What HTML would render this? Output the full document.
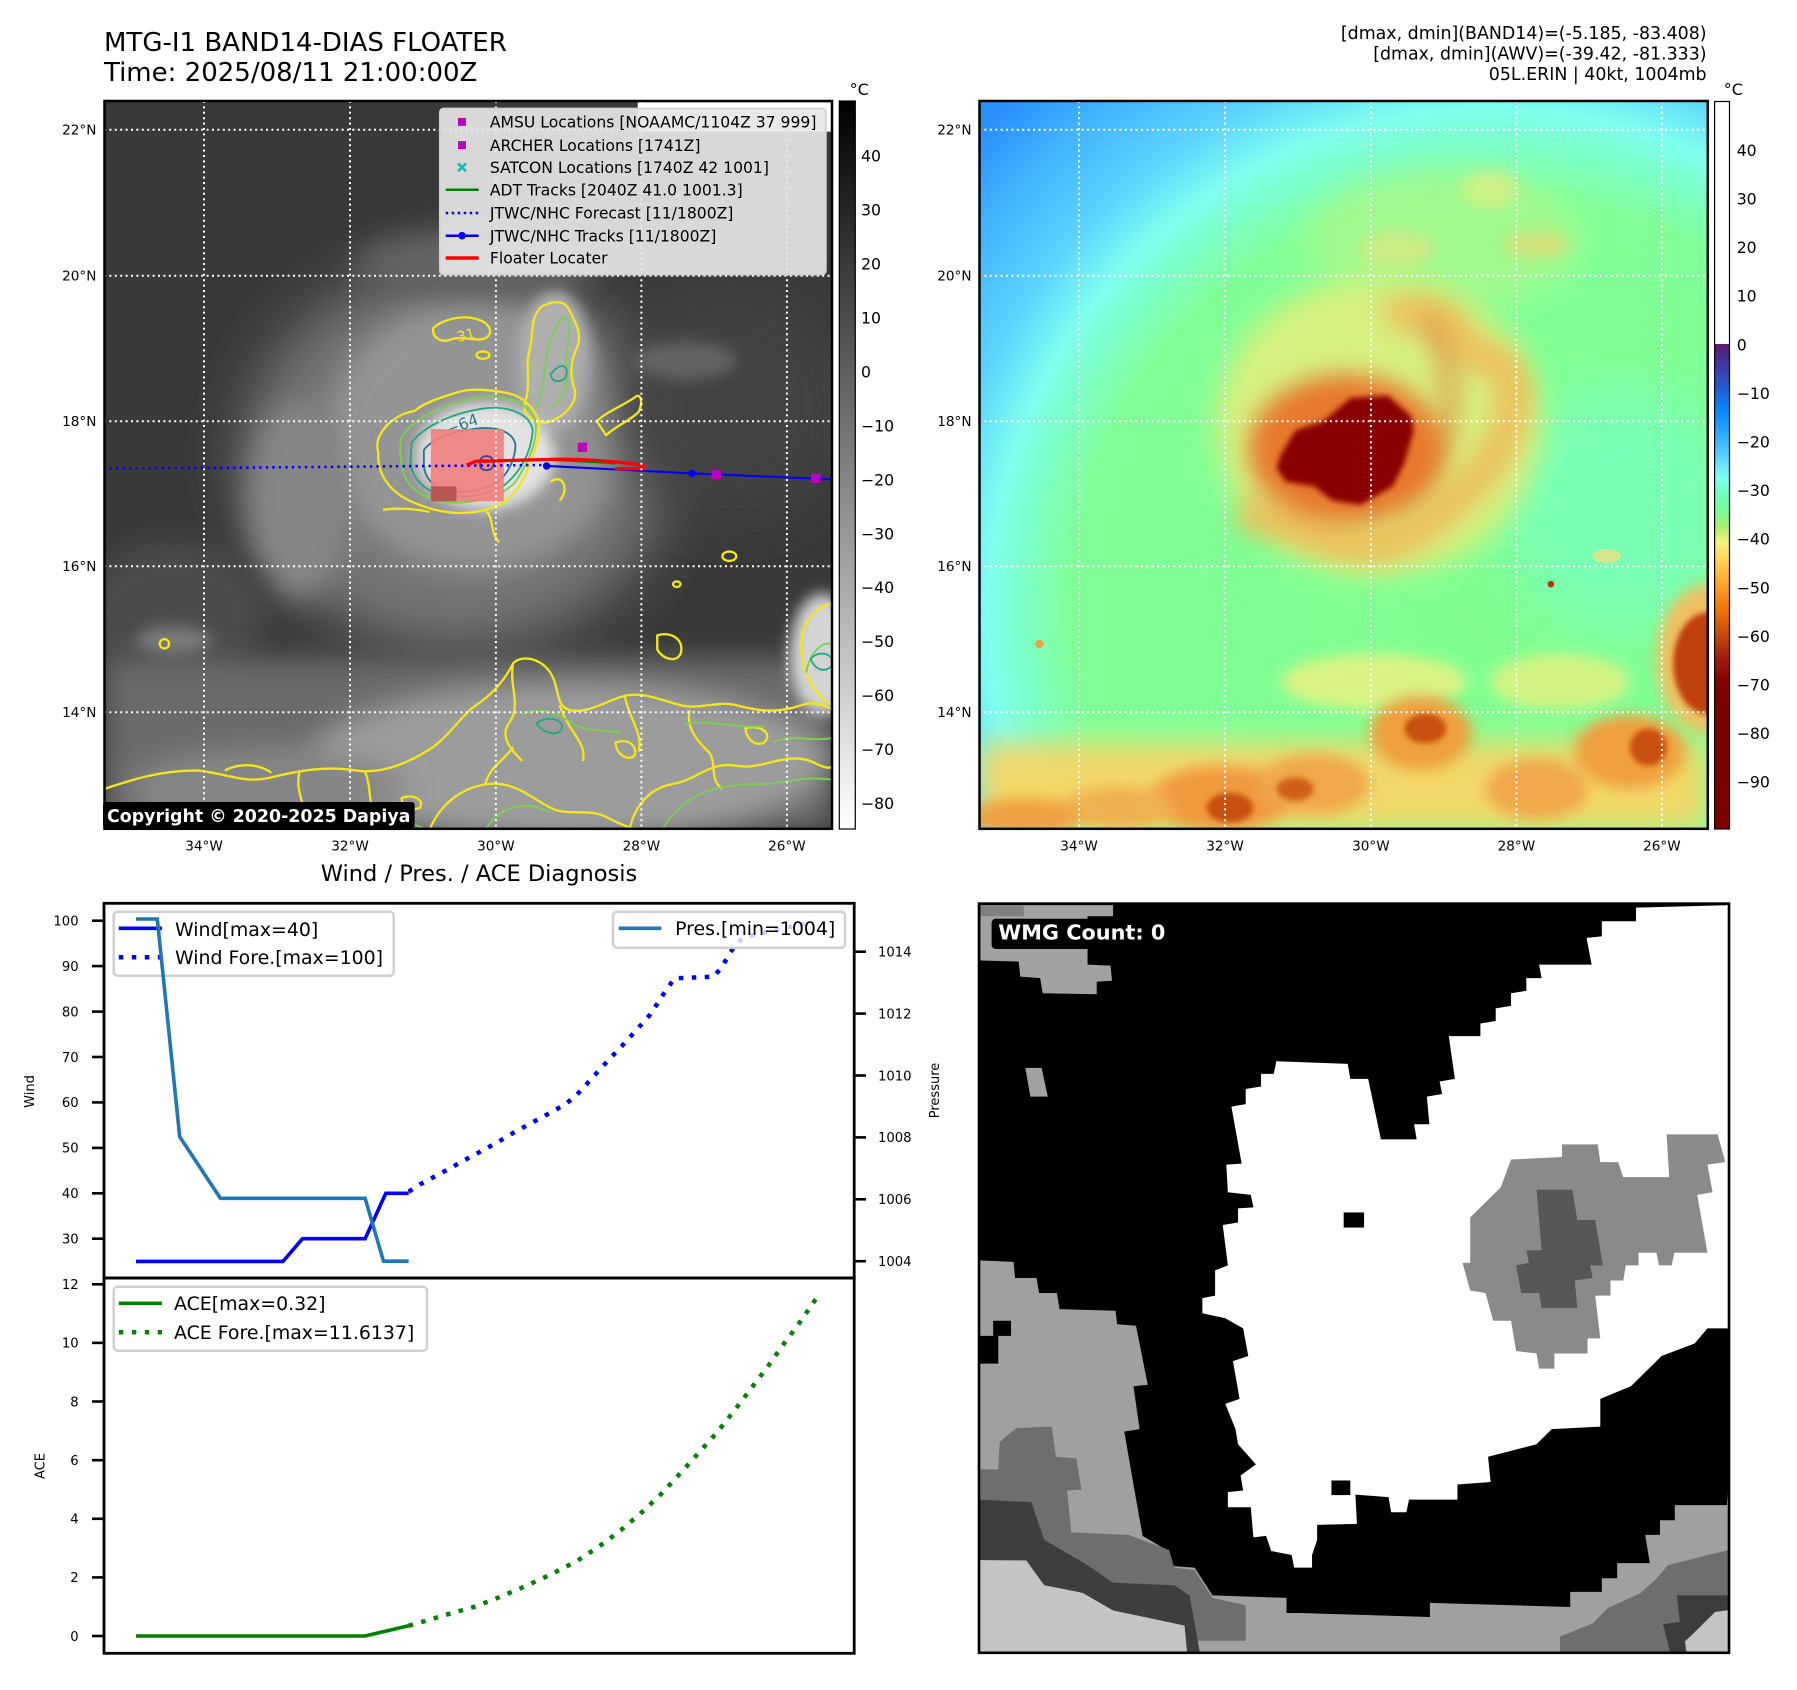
<!DOCTYPE html>
<html><head><meta charset="utf-8"><style>
html,body{margin:0;padding:0;background:#fff}
svg{display:block}
text{font-family:"DejaVu Sans","Liberation Sans",sans-serif}
</style></head><body>
<svg width="1797" height="1690" viewBox="0 0 1797 1690" xmlns="http://www.w3.org/2000/svg">
<defs>
<filter id="b6" x="-50%" y="-50%" width="200%" height="200%"><feGaussianBlur stdDeviation="6"/></filter>
<filter id="b15" x="-50%" y="-50%" width="200%" height="200%"><feGaussianBlur stdDeviation="15"/></filter>
<filter id="b25" x="-50%" y="-50%" width="200%" height="200%"><feGaussianBlur stdDeviation="25"/></filter>
<filter id="b30" x="-50%" y="-50%" width="200%" height="200%"><feGaussianBlur stdDeviation="30"/></filter>
<filter id="b60" x="-50%" y="-50%" width="200%" height="200%"><feGaussianBlur stdDeviation="60"/></filter>
<linearGradient id="cb1" x1="0" y1="0" x2="0" y2="1"><stop offset="0" stop-color="#000"/><stop offset="1" stop-color="#fff"/></linearGradient>
<linearGradient id="cb2" x1="0" y1="0" x2="0" y2="1">
<stop offset="0" stop-color="#fff"/><stop offset="0.3333" stop-color="#fff"/>
<stop offset="0.3334" stop-color="#5a1a6e"/><stop offset="0.3667" stop-color="#3c3ca8"/>
<stop offset="0.40" stop-color="#1e64dc"/><stop offset="0.4267" stop-color="#0a88ff"/>
<stop offset="0.4667" stop-color="#3cb4ff"/><stop offset="0.50" stop-color="#6ee4ff"/>
<stop offset="0.52" stop-color="#80fff0"/><stop offset="0.54" stop-color="#70ffb8"/>
<stop offset="0.5667" stop-color="#80f890"/><stop offset="0.5867" stop-color="#b0f070"/>
<stop offset="0.6067" stop-color="#f8f080"/><stop offset="0.6333" stop-color="#ffd050"/>
<stop offset="0.6667" stop-color="#ffa028"/><stop offset="0.70" stop-color="#f07008"/>
<stop offset="0.7333" stop-color="#c84810"/><stop offset="0.7667" stop-color="#a01c10"/>
<stop offset="0.80" stop-color="#7e0000"/><stop offset="1" stop-color="#7a0000"/>
</linearGradient>
<radialGradient id="m2bg" gradientUnits="userSpaceOnUse" cx="1100" cy="1100" r="1500">
<stop offset="0" stop-color="#80ff90"/><stop offset="0.60" stop-color="#80ff98"/>
<stop offset="0.67" stop-color="#7cffc8"/><stop offset="0.72" stop-color="#80ffee"/>
<stop offset="0.80" stop-color="#5cd4ff"/><stop offset="0.92" stop-color="#40b0ff"/>
<stop offset="1" stop-color="#2a90ff"/>
</radialGradient>
<clipPath id="c1"><rect x="0" y="0" width="1568" height="1568"/></clipPath>
</defs>

<rect width="1797" height="1690" fill="#fff"/>

<!-- Titles -->
<text x="104" y="51" font-size="26">MTG-I1 BAND14-DIAS FLOATER</text>
<text x="104" y="81" font-size="26">Time: 2025/08/11 21:00:00Z</text>
<text x="1706.6" y="38.8" font-size="17.4" text-anchor="end">[dmax, dmin](BAND14)=(-5.185, -83.408)</text>
<text x="1706.6" y="59.3" font-size="17.4" text-anchor="end">[dmax, dmin](AWV)=(-39.42, -81.333)</text>
<text x="1706.6" y="79.8" font-size="17.4" text-anchor="end">05L.ERIN | 40kt, 1004mb</text>

<!-- ============ MAP 1 ============ -->
<svg x="104" y="100" width="729" height="730" viewBox="0 0 1568 1568" preserveAspectRatio="none">
<g clip-path="url(#c1)">
<rect width="1568" height="1568" fill="#393939"/>
<ellipse cx="760" cy="770" rx="460" ry="410" fill="#747474" filter="url(#b60)"/>
<ellipse cx="800" cy="720" rx="320" ry="290" fill="#949494" filter="url(#b30)"/>
<ellipse cx="420" cy="860" rx="110" ry="210" fill="#868686" filter="url(#b30)"/>
<ellipse cx="800" cy="350" rx="260" ry="70" fill="#646464" filter="url(#b30)"/>
<ellipse cx="970" cy="560" rx="80" ry="150" fill="#b0b0b0" filter="url(#b15)"/>
<ellipse cx="820" cy="765" rx="150" ry="115" fill="#e2e2e2" filter="url(#b15)"/>
<ellipse cx="1350" cy="650" rx="250" ry="250" fill="#434343" filter="url(#b60)"/>
<ellipse cx="1250" cy="560" rx="110" ry="40" fill="#646464" filter="url(#b15)"/>
<ellipse cx="150" cy="1100" rx="200" ry="150" fill="#4c4c4c" filter="url(#b30)"/>
<rect x="0" y="1200" width="1568" height="368" fill="#6a6a6a" filter="url(#b30)"/>
<ellipse cx="1000" cy="1420" rx="560" ry="170" fill="#9c9c9c" filter="url(#b30)"/>
<ellipse cx="350" cy="1480" rx="300" ry="90" fill="#868686" filter="url(#b30)"/>
<ellipse cx="1545" cy="1190" rx="70" ry="130" fill="#d4d4d4" filter="url(#b15)"/>
<ellipse cx="150" cy="1160" rx="80" ry="30" fill="#7a7a7a" filter="url(#b15)"/>
<!-- contours -->
<g fill="none" stroke-linejoin="round" stroke-width="5">
<g stroke="#f5e61a">
<path d="M598,712 C612,690 640,672 668,668 C690,650 720,640 760,628 C790,618 830,622 870,630 C900,636 925,660 935,690 C940,720 925,760 912,790 C905,812 890,838 870,856 C850,872 820,884 785,886 C750,890 710,882 680,870 C650,860 628,846 612,826 C596,806 588,782 590,758 C585,740 590,724 598,712 Z"/>
<path d="M905,650 C920,610 905,570 915,540 C925,500 915,470 940,445 C960,432 990,428 1000,450 C1010,470 1030,500 1018,530 C1005,556 1000,590 1012,620 C1020,650 990,680 960,690 C940,698 918,690 905,670 Z"/>
<path d="M708,490 C730,470 770,462 800,470 C830,478 840,500 820,512 C800,520 770,505 745,515 C725,522 705,510 708,490 Z"/>
<path d="M1060,690 C1080,670 1110,660 1140,640 C1155,625 1160,650 1150,670 C1130,690 1100,700 1080,720 Z"/>
<path d="M820,880 C840,900 830,930 850,950 M960,820 C990,800 1000,840 980,860 M600,880 C640,875 680,880 700,885"/>
<ellipse cx="815" cy="548" rx="14" ry="8"/><ellipse cx="130" cy="1168" rx="10" ry="10"/>
<ellipse cx="1232" cy="1040" rx="8" ry="6"/><ellipse cx="1345" cy="980" rx="15" ry="10"/>
<path d="M0,1480 C60,1460 120,1440 200,1440 C260,1445 300,1470 360,1455 C420,1440 480,1430 540,1440 C600,1450 660,1420 700,1395 C740,1370 770,1320 800,1300 C830,1280 860,1250 880,1210 C900,1190 940,1200 960,1230 C980,1260 970,1300 1000,1310 C1040,1320 1080,1290 1120,1280 C1160,1270 1200,1290 1240,1300 C1280,1310 1320,1290 1360,1300 C1400,1310 1440,1320 1500,1300 C1530,1290 1550,1300 1568,1310"/>
<path d="M700,1568 C720,1520 760,1480 820,1470 C880,1460 920,1500 960,1520 C1000,1540 1040,1520 1080,1540 C1120,1560 1140,1568 1160,1568"/>
<path d="M1130,1568 C1140,1520 1170,1480 1220,1470 C1280,1460 1300,1420 1360,1430 C1420,1440 1460,1400 1520,1420 C1540,1430 1560,1440 1568,1430"/>
<path d="M1568,1080 C1530,1090 1500,1120 1500,1170 C1500,1220 1520,1260 1550,1290 L1568,1300"/>
<path d="M1190,1150 C1220,1140 1250,1160 1240,1190 C1230,1210 1200,1200 1190,1180 Z M260,1440 C300,1420 340,1430 360,1445"/>
<path d="M880,1210 C870,1260 900,1300 870,1340 C850,1370 880,1400 900,1420 M980,1300 C1000,1360 1040,1380 1030,1420 M1120,1280 C1130,1330 1160,1360 1150,1400 M1260,1310 C1250,1350 1280,1380 1300,1400 C1320,1420 1300,1460 1330,1480 M560,1440 C580,1480 560,1520 600,1550 M420,1445 C410,1490 440,1520 430,1568 M820,1470 C830,1430 860,1420 880,1390"/>
<path d="M1100,1380 C1130,1370 1150,1390 1140,1410 C1120,1420 1100,1400 1100,1380 Z M1380,1350 C1410,1340 1440,1360 1420,1380 C1400,1390 1380,1370 1380,1350 Z M640,1500 C660,1490 690,1500 680,1520 C660,1530 640,1515 640,1500 Z"/>
</g>
<g stroke="#7ad151" stroke-width="4">
<path d="M640,725 C660,690 720,655 800,640 C860,632 915,648 928,690 C935,740 905,790 885,820 C860,850 800,868 740,864 C690,860 650,832 642,792 C636,765 635,745 640,725 Z"/>
<path d="M930,660 C950,620 945,560 960,520 C975,480 985,455 1000,475 C1005,500 990,540 995,580 C1000,620 980,650 960,660"/>
<path d="M820,1568 C850,1520 900,1500 960,1530 M1200,1568 C1240,1500 1300,1470 1400,1470 C1460,1470 1500,1450 1568,1460 M1510,1230 C1520,1180 1550,1160 1568,1170 M450,1568 C480,1520 540,1500 600,1520 C640,1530 660,1560 700,1568 M1250,1340 C1300,1330 1350,1350 1420,1345"/>
<path d="M900,1320 C940,1300 980,1320 1010,1340 C1040,1360 1080,1350 1110,1360 M1440,1380 C1480,1360 1520,1380 1568,1370"/>
</g>
<g stroke="#22a884" stroke-width="4">
<path d="M662,735 C690,700 750,672 820,662 C880,656 920,680 922,712 C918,760 895,800 860,828 C820,852 760,858 718,846 C678,832 655,800 660,765 Z"/>
<path d="M960,590 C975,570 990,565 995,580 C998,600 980,610 965,600 Z M930,1340 C950,1320 990,1330 985,1350 C980,1365 950,1365 930,1340 Z M1520,1200 C1540,1180 1568,1190 1568,1210 C1560,1230 1530,1230 1520,1200 Z"/>
</g>
<path stroke="#2a788e" stroke-width="4" d="M688,752 C705,728 750,712 800,706 C850,700 880,715 885,740 C885,770 870,800 850,818 C820,840 770,846 735,838 C705,830 690,810 688,785 Z"/>
</g>
<text x="735" y="712" font-size="34" fill="#2a788e" transform="rotate(-20 760 700)">−64</text>
<text x="735" y="520" font-size="30" fill="#f5e61a" transform="rotate(-15 760 510)">−31</text>
<!-- floater rect -->
<rect x="703" y="707" width="157" height="155" fill="#f08080" opacity="0.92"/>
<rect x="703" y="830" width="55" height="32" fill="#b85555"/>
<path d="M808,775 C815,760 835,762 838,778 C840,795 820,800 810,790 Z" fill="none" stroke="#414487" stroke-width="4"/>
<!-- tracks -->
<line x1="12" y1="792" x2="950" y2="784" stroke="#0000ff" stroke-width="5.5" stroke-dasharray="5 9"/>
<path d="M820,778 C900,768 1000,774 1100,781" stroke="#008000" stroke-width="4" fill="none"/>
<path d="M952,786 L1265,802 L1568,815" stroke="#0000ff" stroke-width="4.5" fill="none"/>
<circle cx="952" cy="786" r="8" fill="#0000ff"/><circle cx="1265" cy="802" r="8" fill="#0000ff"/>
<path d="M780,784 L800,776 L960,772 C1020,770 1100,775 1160,785 L1160,792 L1100,792" stroke="#ff0000" stroke-width="7" fill="none"/>
<rect x="1019" y="736" width="20" height="20" fill="#bf00bf"/>
<rect x="1307" y="795" width="20" height="20" fill="#bf00bf"/>
<rect x="1521" y="803" width="20" height="20" fill="#bf00bf"/>
</g>
</svg>
<!-- map1 gridlines -->
<g stroke="#fff" stroke-width="2" stroke-dasharray="2 3.4">
<line x1="204" y1="101" x2="204" y2="829"/><line x1="350" y1="101" x2="350" y2="829"/>
<line x1="495.9" y1="101" x2="495.9" y2="829"/><line x1="641.4" y1="101" x2="641.4" y2="829"/>
<line x1="786.9" y1="101" x2="786.9" y2="829"/>
<line x1="104" y1="129.8" x2="832" y2="129.8"/><line x1="104" y1="275.7" x2="832" y2="275.7"/>
<line x1="104" y1="421.2" x2="832" y2="421.2"/><line x1="104" y1="566.3" x2="832" y2="566.3"/>
<line x1="104" y1="712.3" x2="832" y2="712.3"/>
</g>
<!-- eumetsat label + legend -->
<rect x="637.7" y="102.3" width="194" height="29.3" fill="#fff"/>
<text x="650" y="124" font-size="17" fill="#e6e6e6">© EUMETSAT 2025</text>
<rect x="439.7" y="108.4" width="386.3" height="166.4" rx="4" fill="#e6e6e6" fill-opacity="0.92" stroke="#d0d0d0" stroke-width="1.5"/>
<g font-size="15.6" fill="#000">
<text x="489.9" y="127.6">AMSU Locations [NOAAMC/1104Z 37 999]</text>
<text x="489.9" y="150.8">ARCHER Locations [1741Z]</text>
<text x="489.9" y="173.1">SATCON Locations [1740Z 42 1001]</text>
<text x="489.9" y="195.4">ADT Tracks [2040Z 41.0 1001.3]</text>
<text x="489.9" y="218.7">JTWC/NHC Forecast [11/1800Z]</text>
<text x="489.9" y="241.4">JTWC/NHC Tracks [11/1800Z]</text>
<text x="489.9" y="263.7">Floater Locater</text>
</g>
<rect x="458" y="117.9" width="8" height="8" fill="#bf00bf"/>
<rect x="458" y="141.1" width="8" height="8" fill="#bf00bf"/>
<path d="M458,163.4 L466,171.4 M466,163.4 L458,171.4" stroke="#00bfbf" stroke-width="2.5"/>
<line x1="445.7" y1="189.7" x2="478.7" y2="189.7" stroke="#008000" stroke-width="2.5"/>
<line x1="445.7" y1="213" x2="478.7" y2="213" stroke="#0000ff" stroke-width="2.5" stroke-dasharray="2.5 3.5"/>
<line x1="445.7" y1="235.7" x2="478.7" y2="235.7" stroke="#0000ff" stroke-width="2.5"/>
<circle cx="462" cy="235.7" r="3.8" fill="#0000ff"/>
<line x1="445.7" y1="258" x2="478.7" y2="258" stroke="#ff0000" stroke-width="3.5"/>
<!-- copyright -->
<rect x="103" y="802" width="311.6" height="26" rx="3" fill="#000"/>
<text x="107" y="822" font-size="17.4" font-weight="bold" fill="#fff">Copyright © 2020-2025 Dapiya</text>
<rect x="104.5" y="101" width="727.5" height="727.8" fill="none" stroke="#000" stroke-width="2.5"/>
<!-- map labels -->
<g font-size="13.6" text-anchor="end">
<text x="96.4" y="134.5">22°N</text><text x="96.4" y="280.4">20°N</text>
<text x="96.4" y="425.9">18°N</text><text x="96.4" y="571">16°N</text><text x="96.4" y="717">14°N</text>
<text x="971.5" y="134.5">22°N</text><text x="971.5" y="280.4">20°N</text>
<text x="971.5" y="425.9">18°N</text><text x="971.5" y="571">16°N</text><text x="971.5" y="717">14°N</text>
</g>
<g font-size="13.6" text-anchor="middle">
<text x="204" y="850.7">34°W</text><text x="350" y="850.7">32°W</text><text x="495.9" y="850.7">30°W</text>
<text x="641.4" y="850.7">28°W</text><text x="786.9" y="850.7">26°W</text>
<text x="1079" y="850.7">34°W</text><text x="1225" y="850.7">32°W</text><text x="1370.9" y="850.7">30°W</text>
<text x="1516.4" y="850.7">28°W</text><text x="1661.9" y="850.7">26°W</text>
</g>
<!-- colorbar 1 -->
<rect x="839.3" y="101" width="16" height="728" fill="url(#cb1)" stroke="#000" stroke-width="1.2"/>
<text x="849.6" y="95" font-size="16">°C</text>
<g font-size="15.7">
<text x="861" y="161.7">40</text><text x="861" y="215.6">30</text><text x="861" y="269.6">20</text>
<text x="861" y="323.5">10</text><text x="861" y="377.5">0</text><text x="861" y="431.4">−10</text>
<text x="861" y="485.3">−20</text><text x="861" y="539.3">−30</text><text x="861" y="593.2">−40</text>
<text x="861" y="647.2">−50</text><text x="861" y="701.1">−60</text><text x="861" y="755">−70</text>
<text x="861" y="809">−80</text>
</g>

<!-- ============ MAP 2 ============ -->
<svg x="979" y="100" width="729" height="730" viewBox="0 0 1568 1568" preserveAspectRatio="none">
<g clip-path="url(#c1)">
<rect width="1568" height="1568" fill="url(#m2bg)"/>
<ellipse cx="1380" cy="880" rx="250" ry="260" fill="#74ffcc" opacity="0.6" filter="url(#b60)"/>
<ellipse cx="860" cy="700" rx="350" ry="320" fill="#e6ee7a" opacity="0.85" filter="url(#b30)"/>
<ellipse cx="1000" cy="300" rx="300" ry="150" fill="#c8f480" opacity="0.45" filter="url(#b30)"/>
<ellipse cx="1100" cy="190" rx="60" ry="40" fill="#f0ea80" opacity="0.6" filter="url(#b15)"/>
<ellipse cx="1200" cy="310" rx="70" ry="30" fill="#f4d070" opacity="0.6" filter="url(#b15)"/>
<ellipse cx="900" cy="320" rx="80" ry="40" fill="#f0e080" opacity="0.55" filter="url(#b15)"/>
<path d="M880,470 C940,440 1000,450 1040,520 C1070,570 1140,540 1150,620 C1155,700 1110,780 1040,840 C980,900 900,970 820,960 C740,950 660,900 560,885" fill="none" stroke="#f4b050" stroke-width="80" opacity="0.7" filter="url(#b25)"/>
<path d="M960,470 C1000,520 1020,600 1010,680 C1000,740 950,800 900,840" fill="none" stroke="#e07a30" stroke-width="40" opacity="0.6" filter="url(#b25)"/>
<ellipse cx="790" cy="750" rx="210" ry="160" fill="#e8782c" filter="url(#b25)"/>
<path d="M650,760 L680,710 L740,690 L800,640 L880,635 L930,680 L935,710 L915,780 L890,830 L820,870 L760,860 L720,830 L660,820 L640,790 Z" fill="#8a0000" filter="url(#b6)"/>
<rect x="0" y="1380" width="1568" height="188" fill="#f2d868" filter="url(#b30)"/>
<ellipse cx="850" cy="1250" rx="200" ry="60" fill="#f0f080" opacity="0.8" filter="url(#b15)"/>
<ellipse cx="1250" cy="1250" rx="150" ry="60" fill="#e8f080" opacity="0.8" filter="url(#b15)"/>
<ellipse cx="950" cy="1360" rx="110" ry="80" fill="#f0a040" filter="url(#b15)"/>
<ellipse cx="1400" cy="1400" rx="120" ry="80" fill="#f0a040" filter="url(#b15)"/>
<ellipse cx="520" cy="1500" rx="150" ry="70" fill="#f09a3c" filter="url(#b15)"/>
<ellipse cx="720" cy="1470" rx="120" ry="65" fill="#f0a848" filter="url(#b15)"/>
<ellipse cx="1200" cy="1480" rx="110" ry="65" fill="#f0a848" filter="url(#b15)"/>
<ellipse cx="300" cy="1520" rx="120" ry="45" fill="#f0b050" filter="url(#b15)"/>
<ellipse cx="100" cy="1540" rx="120" ry="40" fill="#f0a040" filter="url(#b15)"/>
<ellipse cx="960" cy="1350" rx="45" ry="32" fill="#c85010" filter="url(#b6)"/>
<ellipse cx="1440" cy="1390" rx="40" ry="40" fill="#c85010" filter="url(#b6)"/>
<ellipse cx="540" cy="1520" rx="50" ry="32" fill="#c85010" filter="url(#b6)"/>
<ellipse cx="680" cy="1480" rx="40" ry="25" fill="#d06018" filter="url(#b6)"/>
<ellipse cx="1568" cy="1200" rx="110" ry="160" fill="#f0c060" filter="url(#b15)"/>
<ellipse cx="1568" cy="1210" rx="75" ry="110" fill="#c04010" filter="url(#b6)"/>
<circle cx="1230" cy="1040" r="7" fill="#c03000"/>
<circle cx="130" cy="1168" r="9" fill="#f0a040"/>
<ellipse cx="1350" cy="980" rx="30" ry="15" fill="#f0e080" opacity="0.8"/>
</g>
</svg>
<g stroke="#fff" stroke-width="2" stroke-dasharray="2 3.4">
<line x1="1079" y1="101" x2="1079" y2="829"/><line x1="1225" y1="101" x2="1225" y2="829"/>
<line x1="1370.9" y1="101" x2="1370.9" y2="829"/><line x1="1516.4" y1="101" x2="1516.4" y2="829"/>
<line x1="1661.9" y1="101" x2="1661.9" y2="829"/>
<line x1="979" y1="129.8" x2="1708" y2="129.8"/><line x1="979" y1="275.7" x2="1708" y2="275.7"/>
<line x1="979" y1="421.2" x2="1708" y2="421.2"/><line x1="979" y1="566.3" x2="1708" y2="566.3"/>
<line x1="979" y1="712.3" x2="1708" y2="712.3"/>
</g>
<rect x="979.5" y="101" width="728.3" height="727.8" fill="none" stroke="#000" stroke-width="2.5"/>
<!-- colorbar 2 -->
<rect x="1714.6" y="101.5" width="14.9" height="727.5" fill="url(#cb2)" stroke="#000" stroke-width="1.2"/>
<text x="1723.8" y="95" font-size="16">°C</text>
<g font-size="15.7">
<text x="1736.7" y="155.9">40</text><text x="1736.7" y="204.5">30</text><text x="1736.7" y="253.1">20</text>
<text x="1736.7" y="301.7">10</text><text x="1736.7" y="350.3">0</text><text x="1736.7" y="398.9">−10</text>
<text x="1736.7" y="447.5">−20</text><text x="1736.7" y="496.1">−30</text><text x="1736.7" y="544.7">−40</text>
<text x="1736.7" y="593.3">−50</text><text x="1736.7" y="641.9">−60</text><text x="1736.7" y="690.5">−70</text>
<text x="1736.7" y="739.1">−80</text><text x="1736.7" y="787.7">−90</text>
</g>

<!-- ============ WIND / PRES / ACE ============ -->
<text x="479" y="881" font-size="22.5" text-anchor="middle">Wind / Pres. / ACE Diagnosis</text>
<polyline points="136,1261.4 283,1261.4 302.5,1238.7 365.1,1238.7 385.8,1193.3 408.7,1193.3" fill="none" stroke="#0000ff" stroke-width="3.6"/>
<polyline points="408.7,1191.7 420.2,1184.3 445,1171 469,1157.7 493.9,1144.3 516.6,1131 541.3,1117.7 565.4,1104.3 576.3,1095.3 585.5,1085.3 603.9,1065 622.8,1045 641.2,1024.7 650.4,1014.3 665.3,991.3 674.5,978.3 713.5,976.7 721,968.3 736,943.3 746.3,936.7 814,921.7" fill="none" stroke="#0000ff" stroke-width="4.5" stroke-dasharray="4.5 8.5"/>
<rect x="113.7" y="911.7" width="280" height="64" rx="4" fill="#fff" fill-opacity="0.8" stroke="#d0d0d0" stroke-width="2.5"/>
<line x1="118.8" y1="928.3" x2="161.9" y2="928.3" stroke="#0000ff" stroke-width="3.6"/>
<line x1="118.8" y1="957.3" x2="161.9" y2="957.3" stroke="#0000ff" stroke-width="4.5" stroke-dasharray="4.5 8.5"/>
<text x="175" y="936.2" font-size="18.9">Wind[max=40]</text>
<text x="175" y="964.2" font-size="18.9">Wind Fore.[max=100]</text>
<polyline points="136,919 157.3,919 179.7,1136.7 220.4,1198.3 365.1,1198.3 383.5,1261.2 408.7,1261.2" fill="none" stroke="#1f77b4" stroke-width="3.6"/>
<rect x="613" y="911.7" width="232" height="36" rx="4" fill="#fff" fill-opacity="0.8" stroke="#d0d0d0" stroke-width="2.5"/>
<line x1="618.8" y1="928.3" x2="661.3" y2="928.3" stroke="#1f77b4" stroke-width="3.6"/>
<text x="675.1" y="935.2" font-size="18.9">Pres.[min=1004]</text>
<polyline points="136,1636 365.1,1636 408.7,1625.7" fill="none" stroke="#008000" stroke-width="3.6"/>
<polyline points="408.7,1625.7 420.8,1622.3 447.8,1614.3 474.7,1606.7 500.6,1596.7 525.8,1586 551.1,1574.3 575.8,1561.7 598.7,1546.7 621.1,1530 641.8,1512.3 661.9,1493.3 680.8,1472.7 699.2,1452.3 717.6,1431.7 734.8,1410 751.4,1388 768.1,1366 784.2,1343.3 800.8,1321 816.3,1298.3" fill="none" stroke="#008000" stroke-width="4.5" stroke-dasharray="4.5 8.5"/>
<rect x="113.7" y="1286.7" width="313.3" height="64" rx="4" fill="#fff" fill-opacity="0.8" stroke="#d0d0d0" stroke-width="2.5"/>
<line x1="118.8" y1="1303.3" x2="161.9" y2="1303.3" stroke="#008000" stroke-width="3.6"/>
<line x1="118.8" y1="1332.3" x2="161.9" y2="1332.3" stroke="#008000" stroke-width="4.5" stroke-dasharray="4.5 8.5"/>
<text x="174" y="1310.2" font-size="18.9">ACE[max=0.32]</text>
<text x="174" y="1339.2" font-size="18.9">ACE Fore.[max=11.6137]</text>
<rect x="104" y="903.3" width="750.2" height="374.7" fill="none" stroke="#000" stroke-width="2.8"/>
<rect x="104" y="1278" width="750.2" height="375.3" fill="none" stroke="#000" stroke-width="2.8"/>
<g stroke="#000" stroke-width="2.6">
<line x1="92" y1="920.7" x2="104" y2="920.7"/><line x1="92" y1="966.1" x2="104" y2="966.1"/>
<line x1="92" y1="1011.6" x2="104" y2="1011.6"/><line x1="92" y1="1057" x2="104" y2="1057"/>
<line x1="92" y1="1102.4" x2="104" y2="1102.4"/><line x1="92" y1="1147.9" x2="104" y2="1147.9"/>
<line x1="92" y1="1193.3" x2="104" y2="1193.3"/><line x1="92" y1="1238.7" x2="104" y2="1238.7"/>
<line x1="854" y1="951.7" x2="866" y2="951.7"/><line x1="854" y1="1013.6" x2="866" y2="1013.6"/>
<line x1="854" y1="1075.5" x2="866" y2="1075.5"/><line x1="854" y1="1137.4" x2="866" y2="1137.4"/>
<line x1="854" y1="1199.3" x2="866" y2="1199.3"/><line x1="854" y1="1261.2" x2="866" y2="1261.2"/>
<line x1="92" y1="1284.3" x2="104" y2="1284.3"/><line x1="92" y1="1342.9" x2="104" y2="1342.9"/>
<line x1="92" y1="1401.5" x2="104" y2="1401.5"/><line x1="92" y1="1460.2" x2="104" y2="1460.2"/>
<line x1="92" y1="1518.8" x2="104" y2="1518.8"/><line x1="92" y1="1577.4" x2="104" y2="1577.4"/>
<line x1="92" y1="1636" x2="104" y2="1636"/>
</g>
<g font-size="13.2" text-anchor="end">
<text x="78.6" y="925.5">100</text><text x="78.6" y="970.9">90</text><text x="78.6" y="1016.4">80</text>
<text x="78.6" y="1061.8">70</text><text x="78.6" y="1107.2">60</text><text x="78.6" y="1152.7">50</text>
<text x="78.6" y="1198.1">40</text><text x="78.6" y="1243.5">30</text>
<text x="78.6" y="1289.1">12</text><text x="78.6" y="1347.7">10</text><text x="78.6" y="1406.3">8</text>
<text x="78.6" y="1465">6</text><text x="78.6" y="1523.6">4</text><text x="78.6" y="1582.2">2</text>
<text x="78.6" y="1640.8">0</text>
</g>
<g font-size="13.2">
<text x="878" y="956.5">1014</text><text x="878" y="1018.4">1012</text><text x="878" y="1080.3">1010</text>
<text x="878" y="1142.2">1008</text><text x="878" y="1204.1">1006</text><text x="878" y="1266">1004</text>
</g>
<text transform="translate(34,1091.5) rotate(-90)" font-size="13" text-anchor="middle">Wind</text>
<text transform="translate(44.4,1466) rotate(-90)" font-size="13" text-anchor="middle">ACE</text>
<text transform="translate(939,1090.5) rotate(-90)" font-size="13" text-anchor="middle">Pressure</text>

<!-- ============ WMG panel ============ -->
<svg x="960" y="890" width="800" height="790" viewBox="0 0 1568 1568" preserveAspectRatio="none">
<rect x="37" y="27" width="1471" height="1486" fill="#000"/>
<polygon fill="#a2a2a2" points="40,30 300,30 300,52 250,52 250,148 295,150 298,180 268,182 268,207 162,205 157,175 118,172 115,142 40,140"/>
<rect x="40" y="30" width="85" height="22" fill="#808080"/>
<polygon fill="#a2a2a2" points="128,353 160,353 172,410 138,410"/>
<polygon fill="#fff" points="1325,35 1508,30 1508,870 1465,870 1440,900 1375,925 1345,955 1315,985 1255,1010 1255,1065 1160,1070 1130,1100 1035,1125 1040,1175 975,1180 975,1210 880,1210 875,1235 845,1235 840,1205 775,1200 778,1258 700,1260 700,1290 690,1320 690,1345 655,1345 650,1320 610,1312 600,1282 575,1285 570,1225 525,1225 525,1195 555,1192 550,1162 580,1140 545,1100 540,1070 520,1020 548,1010 535,935 565,925 555,870 520,850 475,840 475,810 500,805 500,755 525,745 515,665 545,660 545,632 575,630 570,605 525,600 522,545 552,543 532,430 560,425 560,395 590,390 590,365 615,365 620,340 760,345 765,375 800,375 825,495 895,495 890,465 920,465 915,410 945,405 940,380 970,375 958,290 1020,290 1020,265 1050,260 1050,235 1080,230 1080,205 1110,200 1110,175 1140,175 1135,148 1238,148 1228,95 1258,92 1258,62 1325,62"/>
<rect x="752" y="640" width="40" height="30" fill="#000"/>
<rect x="728" y="1172" width="37" height="29" fill="#000"/>
<polygon fill="#8a8a8a" points="1000,650 1030,620 1060,590 1080,535 1180,530 1180,505 1250,505 1255,540 1290,540 1300,570 1390,570 1385,485 1485,485 1500,540 1465,545 1475,600 1445,605 1465,720 1400,720 1395,745 1370,745 1365,720 1330,720 1330,745 1305,745 1300,775 1275,775 1275,805 1245,805 1255,890 1230,890 1230,920 1165,920 1165,950 1135,950 1130,920 1090,915 1080,855 1045,855 1030,800 1000,795 985,740 1000,740"/>
<polygon fill="#575757" points="1130,595 1200,595 1210,655 1245,655 1260,745 1235,745 1240,770 1205,775 1210,830 1140,830 1135,800 1100,800 1090,745 1115,740 1110,715 1140,715"/>
<polygon fill="#a0a0a0" points="37,735 105,738 108,770 150,770 155,800 190,800 195,832 305,835 308,862 345,865 368,982 340,985 352,1070 322,1075 340,1180 358,1282 405,1310 418,1342 460,1345 495,1400 640,1405 640,1435 666,1435 921,1443 921,1415 1196,1423 1196,1393 1258,1393 1258,1366 1288,1366 1288,1336 1352,1336 1343,1280 1372,1280 1372,1251 1401,1251 1401,1221 1503,1221 1505,1195 1508,1195 1508,1513 37,1513"/>
<rect x="65" y="855" width="35" height="30" fill="#000"/>
<rect x="37" y="885" width="38" height="55" fill="#000"/>
<polygon fill="#6e6e6e" points="37,1150 75,1150 78,1095 110,1068 180,1065 188,1125 228,1128 238,1190 210,1192 218,1275 330,1280 410,1310 420,1345 460,1350 495,1405 560,1420 560,1490 460,1490 440,1400 300,1390 240,1370 180,1360 140,1330 37,1330"/>
<polygon fill="#3e3e3e" points="37,1210 140,1215 165,1290 250,1340 300,1375 420,1380 450,1400 470,1513 445,1513 440,1460 300,1430 240,1395 165,1380 130,1330 37,1330"/>
<polygon fill="#c4c4c4" points="37,1330 130,1332 165,1380 240,1395 300,1430 440,1460 445,1513 37,1513"/>
<polygon fill="#6e6e6e" points="1176,1482 1241,1455 1270,1425 1333,1396 1362,1370 1388,1340 1490,1314 1508,1310 1508,1513 1176,1513"/>
<polygon fill="#3c3c3c" points="1405,1400 1508,1400 1508,1433 1480,1433 1476,1463 1450,1466 1421,1489 1424,1513 1392,1513 1378,1457 1411,1453"/>
<polygon fill="#c4c4c4" points="1421,1492 1450,1463 1480,1433 1508,1429 1508,1513 1424,1513"/>
<rect x="62" y="57" width="343" height="60" rx="8" fill="#000"/>
</svg>
<text x="998.3" y="939.4" font-size="20.8" font-weight="bold" fill="#fff">WMG Count: 0</text>
<rect x="979" y="903.6" width="750" height="749.2" fill="none" stroke="#000" stroke-width="2.6"/>
</svg>
</body></html>
